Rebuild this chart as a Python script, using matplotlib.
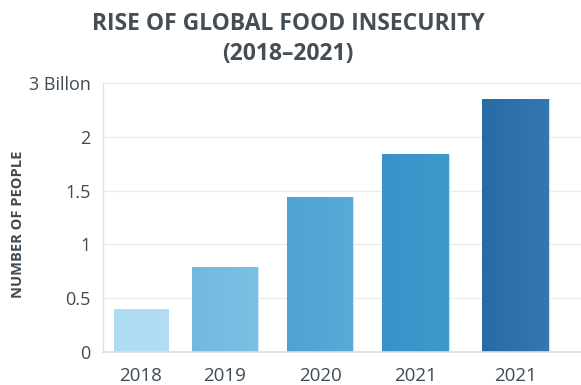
import matplotlib
matplotlib.use("Agg")
import matplotlib.pyplot as plt
import numpy as np
from matplotlib.colors import LinearSegmentedColormap

plt.rcParams["font.family"] = ["Open Sans", "DejaVu Sans"]

years = ["2018", "2019", "2020", "2021", "2021"]
people_bn = [0.40, 0.79, 1.44, 1.84, 2.35]
tick_values = [0, 0.5, 1, 1.5, 2, 2.5]
tick_labels = ["0", "0.5", "1", "1.5", "2", "3 Billon"]

# bar layout (data units on a 0..100 x scale)
centers = [7.9, 25.5, 45.4, 65.4, 86.3]
widths = [11.3, 13.8, 13.8, 14.0, 14.0]
shades = [("#aedcf4", "#b2ddf3"), ("#72b9e0", "#7cc0e3"),
          ("#4ea3d3", "#58abd7"), ("#3893c8", "#3d9acc"),
          ("#286aa6", "#3578b0")]
text_col = "#3f4a53"

fig = plt.figure(figsize=(5.81, 3.85), dpi=100)
ax = fig.add_axes([103 / 581, 1 - 352 / 385, 478 / 581, 269 / 385])

bars = ax.bar(centers, people_bn, width=widths, color=[s[0] for s in shades],
              edgecolor="#d6ecf8", linewidth=0.6, zorder=2)

# subtle left-to-right gradient inside each bar
for b, (c0, c1) in zip(bars, shades):
    cmap = LinearSegmentedColormap.from_list("g", [c0, c1])
    x0, w, h = b.get_x(), b.get_width(), b.get_height()
    im = ax.imshow(np.linspace(0, 1, 64).reshape(1, -1), cmap=cmap,
                   extent=[x0, x0 + w, 0, h], aspect="auto", zorder=2.5)
    im.set_clip_path(b)

ax.set_xlim(0, 100)
ax.set_ylim(0, 2.5)
ax.set_xticks(centers)
ax.set_xticklabels(years, fontsize=13.5, color=text_col)
ax.set_yticks(tick_values)
ax.set_yticklabels(tick_labels, fontsize=13, color=text_col)
ax.tick_params(axis="x", length=0, pad=11)
ax.tick_params(axis="y", length=0, pad=9)
for lbl in ax.get_yticklabels():
    lbl.set_va("center_baseline")

ax.grid(axis="y", color="#ebebeb", linewidth=0.9, zorder=0)
for side in ["top", "right"]:
    ax.spines[side].set_visible(False)
ax.spines["left"].set_color("#e3e3e3")
ax.spines["bottom"].set_color("#dcdcdc")
ax.spines["left"].set_linewidth(1.0)
ax.spines["bottom"].set_linewidth(1.2)

fig.text(18 / 581, 1 - 224 / 385, "NUMBER OF PEOPLE", rotation=90,
         ha="center", va="center", fontsize=10.5, fontweight="bold", color=text_col)
fig.text(288 / 581, 1 - 39 / 385, "RISE OF GLOBAL FOOD INSECURITY\n(2018–2021)",
         ha="center", va="center", fontsize=16.5, fontweight="bold",
         color="#434e57", linespacing=1.3)

fig.savefig("out.png", dpi=100)
